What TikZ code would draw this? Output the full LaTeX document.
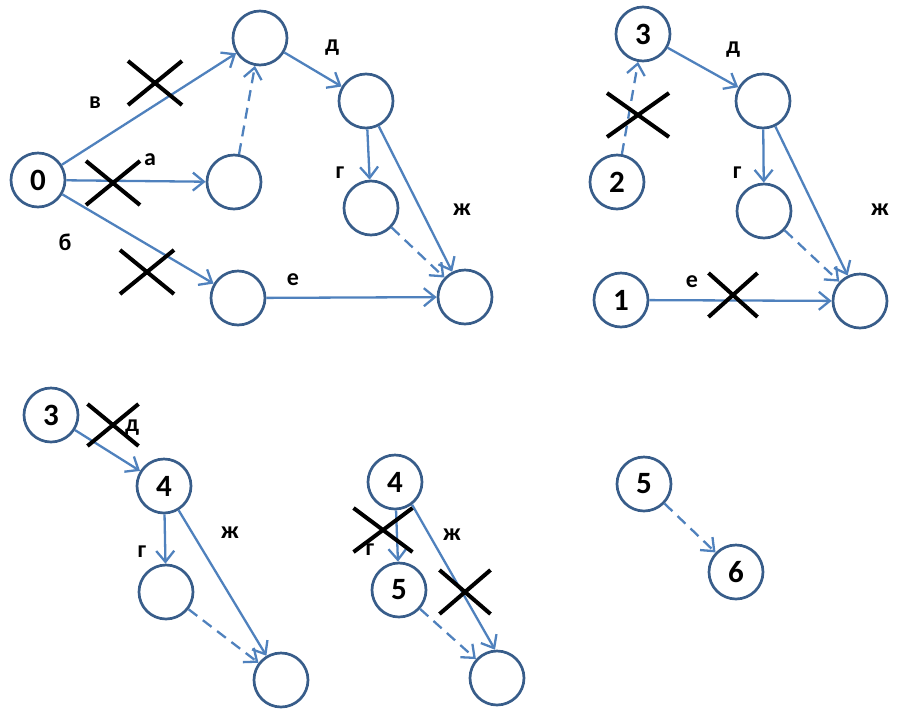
\documentclass[tikz,border=0pt]{standalone}
\usepackage{fontspec}
\setmainfont{Carlito}
\usetikzlibrary{arrows.meta, shapes.misc}
\definecolor{ringblue}{RGB}{56,93,138}
\definecolor{arrowblue}{RGB}{79,129,189}

\begin{document}
\begin{tikzpicture}[x=1pt, y=-1pt,
          ev/.style={circle, draw=ringblue, line width=2.7pt, minimum size=54pt, inner sep=0pt,
                     font=\fontsize{31}{31}\selectfont\bfseries},
          act/.style={-{Straight Barb[length=11pt,width=18pt]}, line width=2.3pt, arrowblue},
          fict/.style={act, dash pattern=on 11pt off 7pt},
          lbl/.style={font=\fontsize{24}{24}\selectfont\bfseries, inner sep=0pt},
          cut/.style={draw, cross out, line width=4pt, inner sep=0pt, minimum width=50pt, minimum height=40pt}]
        \useasboundingbox (0,0) rectangle (906,724);
        % full network
        \node[ev] (n0) at (38,180) {0};
        \node[ev] (a1) at (260,38) {};  \node[ev] (a2) at (234,182) {};
        \node[ev] (a3) at (238,298) {}; \node[ev] (a4) at (366,101) {};
        \node[ev] (a5) at (371,208) {}; \node[ev] (a6) at (465,297) {};
        \draw[act] (n0)--(a1); \draw[act] (n0)--(a2); \draw[act] (n0)--(a3);
        \draw[fict] (a2)--(a1); \draw[act] (a1)--(a4); \draw[act] (a4)--(a5);
        \draw[act] (a4)--(a6); \draw[fict] (a5)--(a6); \draw[act] (a3)--(a6);
        \node[lbl] (av) at (95,103) {в};  \node[lbl] (aa) at (150,160) {а};
        \node[lbl] (ab) at (65,242) {б};  \node[lbl] (ad) at (332,48) {д};
        \node[lbl] (ag) at (340,173) {г}; \node[lbl] (azh) at (462,210) {ж};
        \node[lbl] (ae) at (293,280) {е};
        \node[cut] (xa1) at (155,83) {}; \node[cut] (xa2) at (113,183) {};
        \node[cut] (xa3) at (147,272) {};
        % step 2
        \node[ev] (b3) at (643,34) {3};  \node[ev] (b2) at (617,182) {2};
        \node[ev] (b1) at (621,300) {1}; \node[ev] (b4) at (763,101) {};
        \node[ev] (b5) at (764,211) {};  \node[ev] (b6) at (860,301) {};
        \draw[fict] (b2)--(b3); \draw[act] (b3)--(b4); \draw[act] (b4)--(b5);
        \draw[act] (b4)--(b6); \draw[fict] (b5)--(b6); \draw[act] (b1)--(b6);
        \node[lbl] (bd) at (733,50) {д};  \node[lbl] (bg) at (737,173) {г};
        \node[lbl] (bzh) at (880,210) {ж}; \node[lbl] (be) at (692,282) {е};
        \node[cut, minimum width=58pt] (xb1) at (638,115) {};
        \node[cut, minimum width=45pt] (xb2) at (733,295) {};
        % step 3
        \node[ev] (c3) at (51,415) {3};  \node[ev] (c4) at (164,486) {4};
        \node[ev] (c5) at (166,592) {};  \node[ev] (c6) at (281,680) {};
        \draw[act] (c3)--(c4); \draw[act] (c4)--(c5);
        \draw[act] (c4)--(c6); \draw[fict] (c5)--(c6);
        \node[lbl] (cd) at (132,428) {д}; \node[lbl] (cg) at (142,552) {г};
        \node[lbl] (czh) at (230,533) {ж};
        \node[cut, minimum width=47pt, minimum height=38pt] (xc1) at (113,425) {};
        % step 4
        \node[ev] (d4) at (395,482) {4};  \node[ev] (d5) at (399,590) {5};
        \node[ev] (d6) at (497,678) {};
        \draw[act] (d4)--(d5); \draw[act] (d4.-53)--(d6.94); \draw[fict] (d5)--(d6);
        \node[lbl] (dg) at (370,550) {г}; \node[lbl] (dzh) at (452,535) {ж};
        \node[cut, minimum width=55pt] (xd1) at (383,530) {};
        \node[cut, minimum width=47pt] (xd2) at (465,592) {};
        % step 5
        \node[ev] (e5) at (644,484) {5};  \node[ev] (e6) at (736,572) {6};
        \draw[fict] (e5)--(e6);
      \end{tikzpicture}
\end{document}
